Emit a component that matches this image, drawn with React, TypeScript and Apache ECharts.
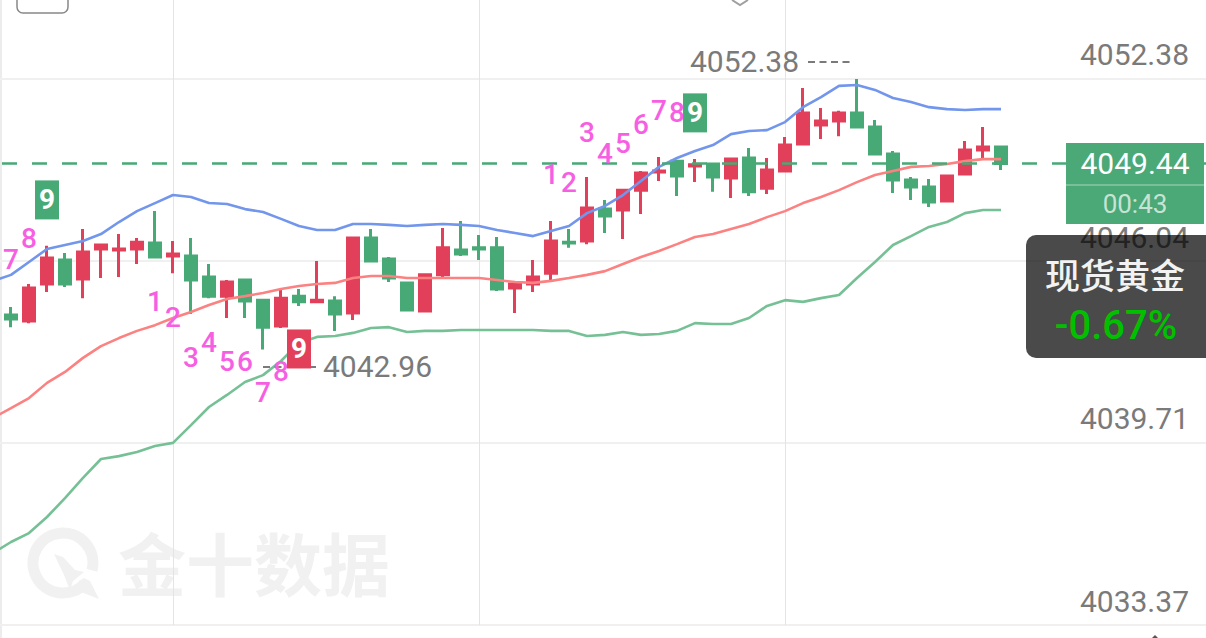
import React, { useEffect, useRef } from "react";
import * as echarts from "echarts";

// Index 0 is the bar that sits just off the left edge: only the three band lines reach it.
const bars = Array.from({ length: 68 }, (_, i) => String(i));

const opens = [4044.16,4043.95,4045.24,4046.08,4045.42,4046.46,4046.43,4046.46,4046.67,4046.22,4046.22,4045.49,4044.82,4045.38,4044.68,4043.78,4044.82,4044.62,4044.65,4044.23,4046.84,4046.11,4045.28,4044.30,4045.56,4046.43,4046.50,4046.50,4045.10,4045.24,4045.62,4046.70,4046.74,4047.85,4047.82,4048.51,4049.14,4049.52,4049.35,4049.42,4048.93,4049.63,4048.58,4049.18,4050.12,4050.78,4050.92,4051.20,4050.71,4049.77,4048.86,4048.62,4048.13,4049.07,4049.91,4050.01];
const closes = [4044.02,4045.10,4046.15,4045.24,4046.36,4046.60,4046.46,4046.70,4046.18,4046.29,4045.38,4044.82,4045.31,4044.65,4043.74,4044.75,4044.62,4044.68,4044.20,4046.84,4046.04,4045.45,4044.34,4045.56,4046.50,4046.29,4046.46,4045.07,4045.24,4045.49,4046.74,4046.67,4047.89,4047.61,4048.51,4049.11,4049.18,4049.00,4049.39,4048.97,4049.59,4048.45,4049.21,4050.08,4051.20,4050.92,4051.20,4050.71,4049.77,4048.86,4048.62,4048.10,4049.00,4049.91,4050.01,4049.44];
const lows = [4043.74,4043.88,4044.96,4045.14,4044.75,4045.45,4045.49,4045.94,4046.18,4045.62,4044.20,4044.75,4044.06,4044.06,4042.96,4043.71,4044.48,4044.62,4043.61,4043.99,4046.01,4045.31,4044.34,4044.30,4045.49,4046.22,4046.08,4045.00,4044.23,4044.96,4045.38,4046.50,4046.63,4047.02,4046.81,4047.68,4048.83,4048.31,4048.79,4048.45,4048.24,4048.31,4048.38,4049.18,4050.12,4050.29,4050.39,4050.67,4049.77,4048.41,4048.17,4047.92,4048.10,4049.07,4049.63,4049.21];
const highs = [4044.44,4045.24,4046.57,4046.32,4047.16,4046.60,4046.98,4046.84,4047.78,4046.74,4046.84,4045.94,4045.38,4045.38,4044.68,4045.03,4045.07,4046.04,4044.82,4046.84,4047.16,4046.18,4045.28,4045.56,4047.19,4047.44,4046.95,4046.88,4045.24,4046.08,4047.44,4047.16,4048.97,4048.17,4048.51,4049.18,4049.66,4049.52,4049.59,4049.42,4049.59,4049.98,4049.63,4050.36,4052.07,4051.37,4051.27,4052.38,4050.95,4049.87,4048.97,4048.90,4049.00,4050.22,4050.71,4050.05];

const bandUpper = [4045.35,4045.56,4046.01,4046.46,4046.60,4046.74,4046.98,4047.40,4047.78,4048.06,4048.34,4048.27,4048.06,4048.03,4047.85,4047.75,4047.51,4047.26,4047.12,4047.12,4047.33,4047.33,4047.30,4047.26,4047.30,4047.33,4047.30,4047.26,4047.12,4047.02,4046.91,4047.09,4047.26,4047.71,4047.96,4048.34,4048.83,4049.32,4049.63,4049.87,4050.08,4050.46,4050.57,4050.60,4050.88,4051.40,4051.75,4052.14,4052.17,4052.00,4051.72,4051.58,4051.40,4051.33,4051.30,4051.33,4051.33];
const bandMiddle = [4040.58,4040.92,4041.27,4041.80,4042.18,4042.67,4043.08,4043.36,4043.61,4043.81,4044.06,4044.27,4044.51,4044.72,4044.82,4044.93,4045.07,4045.17,4045.24,4045.28,4045.45,4045.52,4045.52,4045.45,4045.45,4045.45,4045.45,4045.45,4045.38,4045.31,4045.28,4045.35,4045.45,4045.56,4045.69,4045.94,4046.18,4046.39,4046.63,4046.88,4046.98,4047.16,4047.33,4047.57,4047.78,4048.06,4048.27,4048.51,4048.79,4049.04,4049.18,4049.32,4049.35,4049.42,4049.52,4049.59,4049.59];
const bandLower = [4035.88,4036.26,4036.57,4037.13,4037.79,4038.49,4039.15,4039.25,4039.39,4039.60,4039.71,4040.33,4040.96,4041.38,4041.83,4042.07,4042.56,4043.19,4043.40,4043.43,4043.54,4043.71,4043.74,4043.57,4043.61,4043.61,4043.64,4043.64,4043.64,4043.64,4043.64,4043.61,4043.61,4043.43,4043.47,4043.57,4043.47,4043.50,4043.61,4043.88,4043.85,4043.85,4044.06,4044.48,4044.68,4044.62,4044.75,4044.86,4045.45,4046.01,4046.60,4046.91,4047.23,4047.40,4047.71,4047.82,4047.82];

const seqBars = [1,2,9,10,11,12,13,14,15,16,31,32,33,34,35,36,37,38];
const seqPrices = [4046.08,4046.84,4044.62,4044.09,4042.67,4043.22,4042.53,4042.53,4041.48,4042.18,4049.04,4048.79,4050.53,4049.80,4050.15,4050.78,4051.27,4051.20];
const seqLabels = ["7","8","1","2","3","4","5","6","7","8","1","2","3","4","5","6","7","8"];

const nineBars = [3, 17, 39];
const ninePrices = [4048.17, 4042.98, 4051.20];
const nineColors = ["#47a975", "#e2405a", "#47a975"];

const priceTicks = [4033.37, 4039.71, 4046.04, 4052.38];
const lastPrice = 4049.44;
const lastPriceText = "4049.44";
const countdown = "00:43";
const highText = "4052.38";
const lowText = "4042.96";
const productName = "现货黄金";
const changeText = "-0.67%";
const watermark = "金十数据";
const dayLineBars = [10, 27, 44];

const GREY = "#7a7a7a";
const FONT = "Roboto, sans-serif";
const WM = "#f1f1f1";

export default function App() {
  const ref = useRef<HTMLDivElement>(null);
  useEffect(() => {
    const chart = echarts.init(ref.current!, undefined, { renderer: "svg" });
    const candleData: any[] = [
      "-",
      ...opens.map((o, i) => [o, closes[i], lows[i], highs[i]]),
    ];
    const bandLine = (data: number[], color: string, extra: any = {}) => ({
      type: "line",
      data,
      symbol: "none",
      smooth: false,
      silent: true,
      z: 3,
      lineStyle: { color, width: 2.6 },
      ...extra,
    });
    const overlay = 100;
    chart.setOption({
      animation: false,
      backgroundColor: "#ffffff",
      grid: { left: -16, top: 0, width: 1224, height: 625, containLabel: false, outerBoundsMode: "none" },
      xAxis: {
        type: "category",
        data: bars,
        boundaryGap: true,
        axisLine: { show: false },
        axisTick: { show: false },
        axisLabel: { show: false },
        splitLine: { show: false },
      },
      yAxis: {
        type: "value",
        position: "right",
        min: 4033.37,
        max: 4055.13,
        scale: true,
        axisLine: { show: false },
        axisTick: { show: false, customValues: priceTicks },
        splitLine: { show: true, lineStyle: { color: "#f0f0f0", width: 2 } },
        axisLabel: {
          customValues: priceTicks,
          inside: true,
          margin: 19,
          color: GREY,
          fontFamily: FONT,
          fontSize: 30,
          verticalAlign: "bottom",
          lineHeight: 30,
          padding: [0, 0, 9, 0],
          formatter: (v: number) => v.toFixed(2),
        },
      },
      series: [
        {
          type: "candlestick",
          data: candleData,
          barWidth: 12,
          silent: true,
          z: 2,
          itemStyle: {
            color: "#e2405a",
            color0: "#47a975",
            borderColor: "#e2405a",
            borderColor0: "#47a975",
            borderWidth: 3,
          },
          markLine: {
            silent: true,
            z: 1,
            symbol: "none",
            label: { show: false },
            lineStyle: { color: "#e4e4e4", width: 1, type: "solid" },
            data: dayLineBars.map((b) => ({ xAxis: b })),
          },
        },
        bandLine(bandUpper, "#7296ec"),
        bandLine(bandMiddle, "#fc8181", {
          markLine: {
            silent: true,
            z: 6,
            symbol: "none",
            label: { show: false },
            lineStyle: { color: "#47a975", width: 2.6, type: [15, 15], dashOffset: 12 },
            data: [{ yAxis: lastPrice }],
          },
        }),
        bandLine(bandLower, "#76c096"),
        {
          type: "scatter",
          silent: true,
          z: 7,
          symbol: "circle",
          symbolSize: 1,
          itemStyle: { color: "transparent", opacity: 1 },
          data: seqBars.map((b, i) => [b, seqPrices[i], seqLabels[i]]),
          label: {
            show: true,
            position: "inside",
            color: "#f75fe3",
            fontFamily: FONT,
            fontWeight: 500,
            fontSize: 28,
            formatter: (p: any) => p.value[2],
          },
        },
        {
          type: "scatter",
          silent: true,
          z: 8,
          symbol: "circle",
          symbolSize: 1,
          itemStyle: { color: "transparent", opacity: 1 },
          data: nineBars.map((b, i) => ({
            value: [b, ninePrices[i]],
            label: { backgroundColor: nineColors[i] },
          })),
          label: {
            show: true,
            position: "inside",
            color: "#ffffff",
            fontFamily: FONT,
            fontWeight: "bold",
            fontSize: 28,
            align: "center",
            verticalAlign: "middle",
            width: 24,
            height: 39,
            lineHeight: 39,
            formatter: () => "9",
          },
        },
      ],
      graphic: [
        { type: "rect", z: -1, shape: { x: 0, y: 0, width: 2, height: 638 }, style: { fill: "#ececec" } },
        { type: "rect", z: 1, shape: { x: 17, y: -20, width: 51, height: 33, r: 6 }, style: { fill: "#fff", stroke: "#888888", lineWidth: 1.5 } },
        { type: "polyline", z: 1, shape: { points: [[732, 0], [740, 5], [748, 0]] }, style: { fill: "none", stroke: "#a0a0a0", lineWidth: 2 } },
        // watermark
        { type: "arc", z: 0, shape: { cx: 63, cy: 563, r: 30, startAngle: 0.75, endAngle: 0.25 + Math.PI * 2, clockwise: true }, style: { fill: "none", stroke: WM, lineWidth: 11 } },
        { type: "polygon", z: 0, shape: { points: [[54, 554], [63, 557], [75, 570], [84, 572], [73, 581], [70, 590], [64, 575]] }, style: { fill: WM } },
        { type: "polygon", z: 0, shape: { points: [[79, 581], [84, 578], [90, 581], [99, 599], [81, 592], [78, 587]] }, style: { fill: WM } },
        { type: "text", z: 0, x: 118, y: 527, style: { text: watermark, fill: WM, font: `bold 68px "Noto Sans CJK SC"` } },
        // high / low annotations
        { type: "text", z: 9, x: 690, y: 46, style: { text: highText, fill: GREY, font: `30px ${FONT}` } },
        { type: "line", z: 9, shape: { x1: 808, y1: 62, x2: 853, y2: 62 }, style: { stroke: GREY, lineWidth: 2, lineDash: [7, 4.5] } },
        { type: "text", z: 9, x: 323, y: 351, style: { text: lowText, fill: GREY, font: `30px ${FONT}` } },
        { type: "line", z: 6, shape: { x1: 263, y1: 367, x2: 319, y2: 367 }, style: { stroke: GREY, lineWidth: 2, lineDash: [7, 4.5] } },
        // last-price tag
        { type: "rect", z: overlay, shape: { x: 1066, y: 143, width: 138, height: 81 }, style: { fill: "#4aa977" } },
        { type: "line", z: overlay, shape: { x1: 1066, y1: 185, x2: 1204, y2: 185 }, style: { stroke: "rgba(255,255,255,0.35)", lineWidth: 1.5 } },
        { type: "text", z: overlay + 1, x: 1135, y: 163.5, style: { text: lastPriceText, fill: "#ffffff", font: `30px ${FONT}`, align: "center", verticalAlign: "middle" } },
        { type: "text", z: overlay + 1, x: 1135, y: 204, style: { text: countdown, fill: "rgba(255,255,255,0.7)", font: `26px ${FONT}`, align: "center", verticalAlign: "middle" } },
        // product tag
        { type: "rect", z: overlay + 2, shape: { x: 1026, y: 235, width: 190, height: 123, r: 10 }, style: { fill: "rgba(0,0,0,0.71)" } },
        { type: "text", z: overlay + 3, x: 1115, y: 273, style: { text: productName, fill: "#f2f2f2", font: `500 35px "Noto Sans CJK SC"`, align: "center", verticalAlign: "middle" } },
        { type: "text", z: overlay + 3, x: 1116, y: 325, style: { text: changeText, fill: "#00c000", font: `500 40px ${FONT}`, align: "center", verticalAlign: "middle" } },
        // bottom tip
        { type: "polygon", z: overlay, shape: { points: [[1152, 638], [1155, 635], [1158, 638]] }, style: { fill: "#555555" } },
      ],
    });
    return () => chart.dispose();
  }, []);
  return <div ref={ref} style={{ position: "fixed", left: 0, top: 0, width: 1206, height: 638 }} />;
}
